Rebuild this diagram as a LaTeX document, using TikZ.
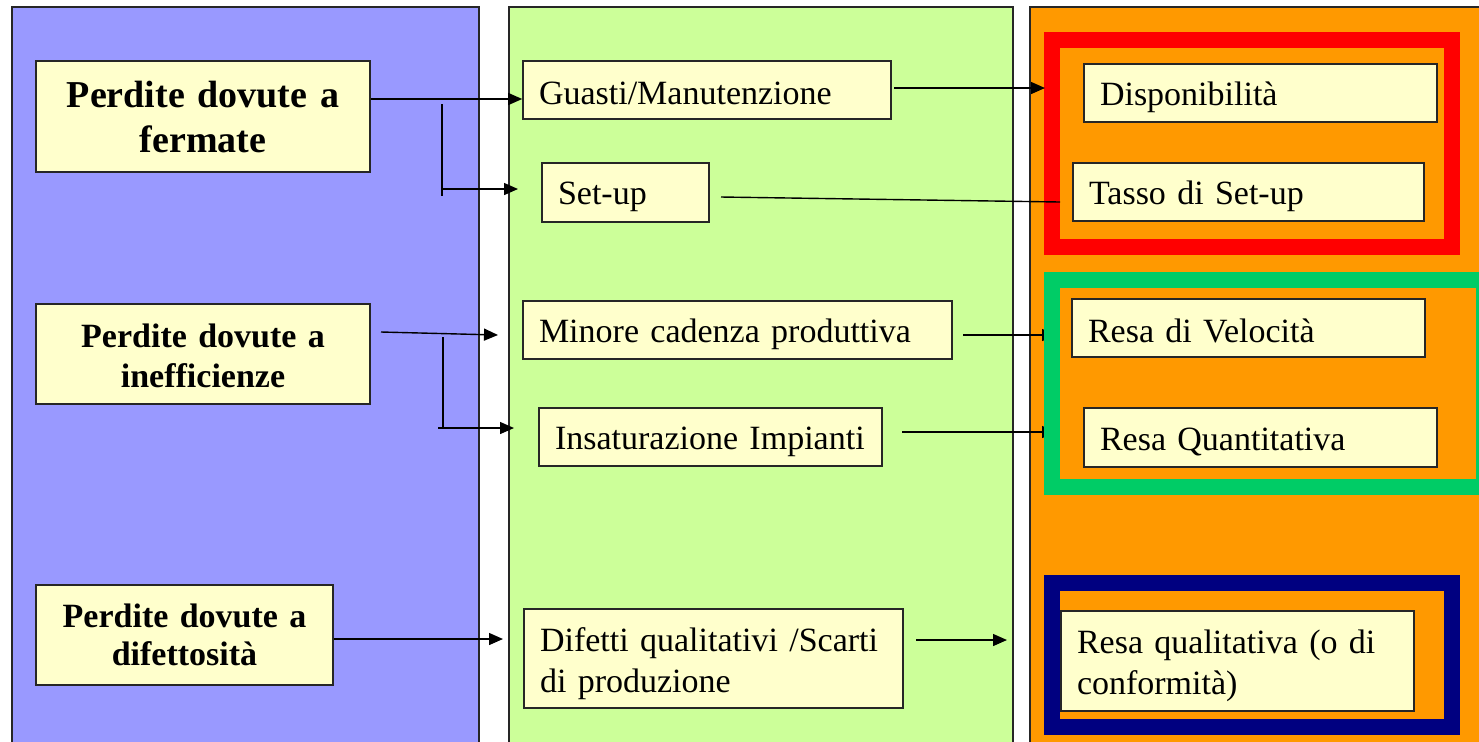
\documentclass[tikz,border=0pt]{standalone}
\usepackage{fontspec}
\setmainfont{Liberation Serif}
\usetikzlibrary{arrows.meta,calc}
\definecolor{panelblue}{HTML}{9999FF}
\definecolor{panelgreen}{HTML}{CCFF99}
\definecolor{panelorange}{HTML}{FF9900}
\definecolor{boxyellow}{HTML}{FFFFCC}
\definecolor{framered}{HTML}{FF0000}
\definecolor{framegreen}{HTML}{00CC66}
\definecolor{framenavy}{HTML}{000080}
\begin{document}
\begin{tikzpicture}[x=0.5pt,y=-0.5pt,
  panel/.style={draw=black!85, line width=0.55pt},
  frameband/.style={line width=8pt},
  struts/.style 2 args={execute at begin node={\rule{0pt}{#1}},
    execute at end node={\rule[-#2]{0pt}{0pt}}},
  bigbox/.style={draw=black!85, fill=boxyellow, line width=0.8pt, align=center,
    inner sep=0pt, font=\bfseries\fontsize{19}{22.5}\selectfont, struts={17pt}{4pt}},
  midbox/.style={draw=black!85, fill=boxyellow, line width=0.8pt, align=center,
    inner sep=0pt, font=\bfseries\fontsize{17}{20}\selectfont, struts={16pt}{3pt}},
  lowbox/.style={draw=black!85, fill=boxyellow, line width=0.8pt, align=center,
    inner sep=0pt, font=\bfseries\fontsize{17}{19}\selectfont, struts={15pt}{4pt}},
  itembox/.style={draw=black!85, fill=boxyellow, line width=0.8pt, align=left,
    inner xsep=8pt, inner ysep=0pt, font=\fontsize{17}{19.5}\selectfont, struts={16pt}{2pt}},
  itembox2/.style={itembox, font=\fontsize{17}{20.5}\selectfont, struts={17pt}{2pt}},
  conn/.style={line width=0.7pt, draw=black},
  arr/.style={conn, -{Triangle[length=7pt,width=6pt]}}
]
\useasboundingbox (0,0) rectangle (1479,741);
\clip (0,0) rectangle (1479,741);
\fill[white] (0,0) rectangle (1479,741);

% panels
\path[panel, fill=panelblue] (12,7) rectangle (479,760);
\path[panel, fill=panelgreen] (509,7) rectangle (1013,760);
\path[panel, fill=panelorange] (1030,7) rectangle (1520,760);

% left boxes
\node[bigbox, text width=167pt, minimum height=55.5pt] (ferm) at (203,116.5) {Perdite dovute a\\fermate};
\node[midbox, text width=167pt, minimum height=50pt] (ineff) at (203,354) {Perdite dovute a\\inefficienze};
\node[lowbox, text width=148.5pt, minimum height=50pt] (difett) at (184.5,635) {Perdite dovute a\\difettosità};

% middle boxes
\node[itembox, text width=168pt, minimum height=29pt] (guasti) at (707,90) {Guasti/Manutenzione};
\node[itembox, text width=67.5pt, minimum height=29.5pt] (setup) at (625.5,192.5) {Set-up};
\node[itembox, text width=198.5pt, minimum height=29pt] (minore) at (737.5,330) {Minore cadenza produttiva};
\node[itembox, text width=155.5pt, minimum height=29pt] (insat) at (710.5,437) {Insaturazione Impianti};
\node[itembox2, text width=173.5pt, minimum height=49.5pt] (difetti) at (713.5,658.5) {Difetti qualitativi /Scarti\\di produzione};

% connector coordinates
\coordinate (yA) at (0,99);
\coordinate (b1top) at (442,104);
\coordinate (b1bot) at (442,196);
\coordinate (b1mid) at (442,189);
\coordinate (setupIn) at (518,189);
\coordinate (gOut) at (894,88);
\coordinate (redIn) at (1045,88);
\coordinate (sOut) at (721,197);
\coordinate (sEnd) at (1060,202);
\coordinate (iOut) at (381,332);
\coordinate (mIn) at (498,335);
\coordinate (b2top) at (443,337);
\coordinate (b2bot) at (443,428);
\coordinate (b2left) at (438,428);
\coordinate (insIn) at (514,428);
\coordinate (mOut) at (963,335);
\coordinate (velIn) at (1056,335);
\coordinate (qOut) at (902,432);
\coordinate (quaIn) at (1056,432);
\coordinate (yD) at (0,639);
\coordinate (dIn) at (503,639);
\coordinate (dfOut) at (916,640);
\coordinate (qlIn) at (1007,640);

% arrows into the green frame (partly covered by it)
\draw[arr] (mOut) -- (velIn);
\draw[arr] (qOut) -- (quaIn);

% coloured frames
\draw[frameband, draw=framered] (1052,40) rectangle (1452,247);
\draw[frameband, draw=framegreen] (1052,280) rectangle (1484,487);
\draw[frameband, draw=framenavy] (1052,583) rectangle (1452,727);

% right boxes
\node[itembox, text width=160.5pt, minimum height=29pt] (dispon) at (1260.5,93) {Disponibilità};
\node[itembox, text width=159.5pt, minimum height=29pt] (tasso) at (1248.5,192) {Tasso di Set-up};
\node[itembox, text width=160.5pt, minimum height=29pt] (veloc) at (1248.5,328) {Resa di Velocità};
\node[itembox, text width=160.5pt, minimum height=29.5pt] (quant) at (1260.5,437.5) {Resa Quantitativa};
\node[itembox2, text width=160.5pt, minimum height=50pt] (qualit) at (1237.5,661) {Resa qualitativa (o di\\conformità)};

% connectors
\draw[arr] (ferm.east |- yA) -- (guasti.west |- yA);
\draw[conn] (b1top) -- (b1bot);
\draw[arr] (b1mid) -- (setupIn);
\draw[arr] (gOut) -- (redIn);
\draw[conn] (sOut) -- (sEnd);
\draw[arr] (iOut) -- (mIn);
\draw[conn] (b2top) -- (b2bot);
\draw[arr] (b2left) -- (insIn);
\draw[arr] (difett.east |- yD) -- (dIn);
\draw[arr] (dfOut) -- (qlIn);
\end{tikzpicture}
\end{document}
